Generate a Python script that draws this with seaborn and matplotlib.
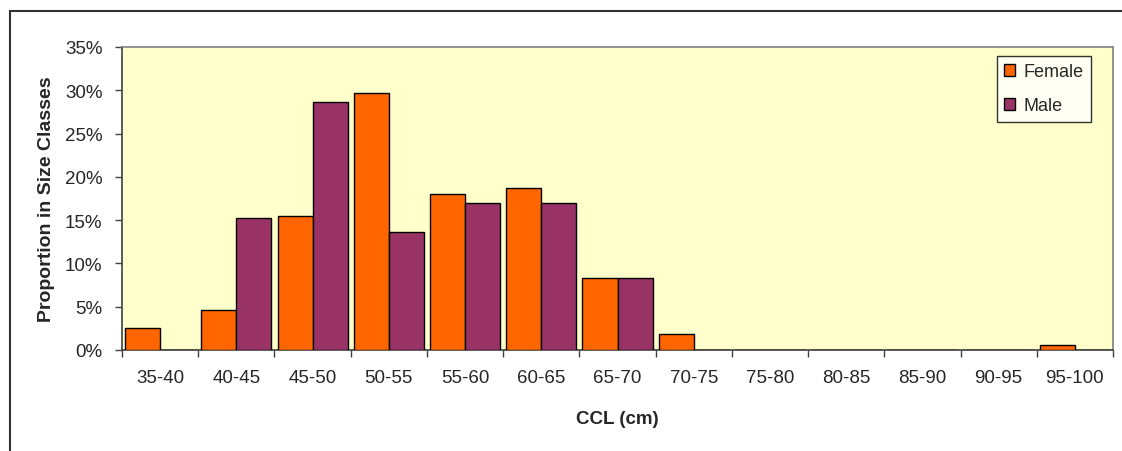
import matplotlib
matplotlib.use("Agg")
import matplotlib.pyplot as plt
from matplotlib.patches import Rectangle
from matplotlib.ticker import FixedLocator, FuncFormatter
import numpy as np
import pandas as pd
import seaborn as sns

# Size classes (curved carapace length, cm)
size_classes = ["35-40", "40-45", "45-50", "50-55", "55-60", "60-65", "65-70",
                "70-75", "75-80", "80-85", "85-90", "90-95", "95-100"]
female = [2.5, 4.6, 15.5, 29.7, 18.0, 18.7, 8.3, 1.9, 0, 0, 0, 0, 0.6]
male = [0, 15.3, 28.7, 13.6, 17.0, 17.0, 8.3, 0, 0, 0, 0, 0, 0]
sexes = ["Female", "Male"]
colors = ["#FF6600", "#993366"]

df = pd.DataFrame({
    "Size class": size_classes * 2,
    "Proportion": female + male,
    "Sex": [sexes[0]] * len(size_classes) + [sexes[1]] * len(size_classes),
})

sns.set_style("white")
plt.rcParams["font.family"] = ["Liberation Sans", "DejaVu Sans"]

W, H = 1122, 452
fig = plt.figure(figsize=(W / 100, H / 100), dpi=100)
left, right, top, bottom = 122, 1113, 48, 351
ax = fig.add_axes([left / W, (H - bottom) / H, (right - left) / W, (bottom - top) / H])
ax.set_facecolor("#FFFFCC")

sns.barplot(data=df, x="Size class", y="Proportion", hue="Sex",
            palette=colors, width=0.92, gap=0, edgecolor="black",
            linewidth=1.0, saturation=1, ax=ax, zorder=3)

n = len(size_classes)
ax.set_xlim(-0.5, n - 0.5)
ax.set_ylim(0, 35)
ax.yaxis.set_major_locator(FixedLocator(np.arange(0, 36, 5)))
ax.yaxis.set_major_formatter(FuncFormatter(lambda v, p: f"{v:.0f}%"))

# ticks on class boundaries, labels centred in each class
ax.xaxis.set_major_locator(FixedLocator(np.arange(-0.5, n, 1.0)))
ax.xaxis.set_major_formatter(FuncFormatter(lambda v, p: ""))
ax.xaxis.set_minor_locator(FixedLocator(np.arange(0, n)))
ax.set_xticklabels(size_classes, minor=True)
ax.tick_params(axis="x", which="major", direction="out", length=5, width=1,
               color="#404040", bottom=True)
ax.tick_params(axis="x", which="minor", length=0, pad=14, labelsize=13.5)
ax.tick_params(axis="y", direction="out", length=5, width=1, color="#404040",
               left=True, pad=9, labelsize=13.5)

for side in ("top", "right"):
    ax.spines[side].set_color("#808080")
    ax.spines[side].set_linewidth(1.2)
for side in ("left", "bottom"):
    ax.spines[side].set_color("#404040")
    ax.spines[side].set_linewidth(1.2)

ax.set_xlabel("CCL (cm)", fontsize=13.5, fontweight="bold", labelpad=17)
ax.set_ylabel("Proportion in Size Classes", fontsize=14, fontweight="bold",
              labelpad=7)

leg = ax.legend(loc="upper left", bbox_to_anchor=(0.883, 0.970),
                fontsize=13, frameon=True, fancybox=False, shadow=False,
                handlelength=0.6, handleheight=0.6, handletextpad=0.45,
                labelspacing=0.95, borderpad=0.4, borderaxespad=0)
leg.get_frame().set_edgecolor("black")
leg.get_frame().set_linewidth(1.0)
leg.get_frame().set_facecolor("white")
leg.set_title(None)

# outer chart border
fig.patches.append(Rectangle((10 / W, -0.05), 1.2, (H - 12) / H + 0.05,
                             transform=fig.transFigure, fill=False,
                             edgecolor="#333333", linewidth=1.5))

fig.savefig("out.png", dpi=100)
